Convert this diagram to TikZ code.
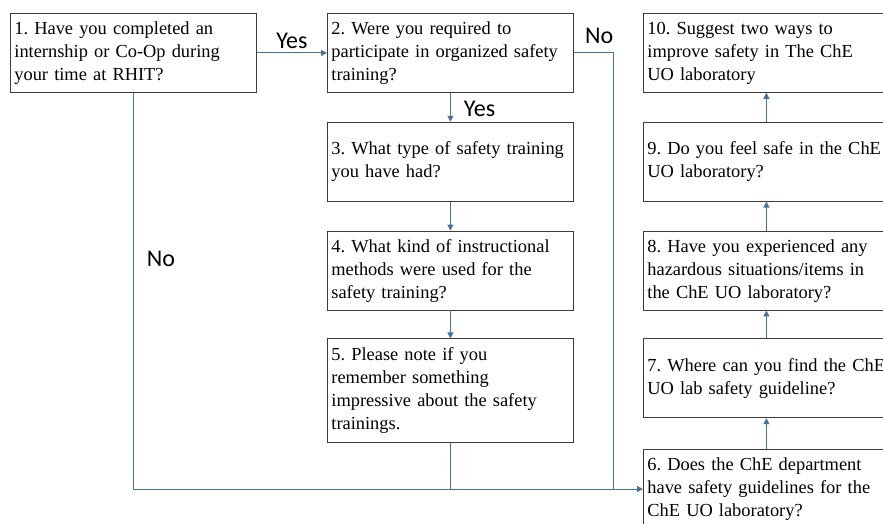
\documentclass[tikz,border=0pt]{standalone}
\usepackage{fontspec}
\setmainfont{Liberation Serif}
\newfontfamily\labelfont{Carlito}
\usetikzlibrary{positioning,arrows.meta}
\definecolor{flowblue}{RGB}{70,114,160}
\definecolor{boxgray}{RGB}{60,60,60}
\newcommand\qfont{\fontsize{18.4}{23}\selectfont\frenchspacing}
\newcommand\qlines[1]{\begin{tabular}{@{}l@{}}#1\end{tabular}}
\tikzset{
  qbox/.style   = {shape=rectangle, draw=boxgray, line width=0.8pt,
                   align=left, text width=238pt, inner xsep=4pt,
                   minimum width=246pt, minimum height=79pt, font=\qfont},
  answer/.style = {font=\labelfont\fontsize{24}{26}\selectfont, inner sep=2pt},
  flow/.style   = {draw=flowblue, line width=1pt},
  arrow/.style  = {flow, -{Triangle[length=6pt,width=6pt]}}
}

\begin{document}
\begin{tikzpicture}[x=1pt, y=1pt]
  \useasboundingbox (0,0) rectangle (883,-524);
  % questions
  \node [qbox, anchor=north west] (q1) at (10,-13)
    {\qlines{1. Have you completed an\\internship or Co-Op during\\your time at RHIT?}};
  \node [qbox, anchor=north west] (q2) at (327,-13)
    {\qlines{2. Were you required to\\participate in organized safety\\training?}};
  \node [qbox, below=29pt of q2] (q3)
    {\qlines{3. What type of safety training\\you have had?}};
  \node [qbox, below=29pt of q3] (q4)
    {\qlines{4. What kind of instructional\\methods were used for the\\safety training?}};
  \node [qbox, below=28pt of q4, minimum height=104pt] (q5)
    {\qlines{5. Please note if you\\remember something\\impressive about the safety\\trainings.}};
  \node [qbox, anchor=north west] (q10) at (643,-13)
    {\qlines{10. Suggest two ways to\\improve safety in The ChE\\UO laboratory}};
  \node [qbox, below=29pt of q10] (q9)
    {\qlines{9. Do you feel safe in the ChE\\UO laboratory?}};
  \node [qbox, below=29pt of q9] (q8)
    {\qlines{8. Have you experienced any\\hazardous situations/items in\\the ChE UO laboratory?}};
  \node [qbox, below=28pt of q8] (q7)
    {\qlines{7. Where can you find the ChE\\UO lab safety guideline?}};
  \node [qbox, below=31pt of q7] (q6)
    {\qlines{6. Does the ChE department\\have safety guidelines for the\\ChE UO laboratory?}};
  \coordinate (njoin) at (613,0);

  % connectors
  \draw [arrow] (q1) -- node [answer, above=2pt] {Yes} (q2);
  \draw [arrow] (q2) -- node [answer, right=11pt, yshift=-2pt] {Yes} (q3);
  \draw [arrow] (q3) -- (q4);
  \draw [arrow] (q4) -- (q5);
  \draw [flow] (q2.east) -- node [answer, above=7pt, pos=0.65] {No} (q2.east -| njoin)
    -- (njoin |- q6.west);
  \draw [flow] (q5.south) -- (q5.south |- q6.west);
  \draw [arrow] (q1.south) -- node [answer, right=11pt, pos=0.42] {No} (q1.south |- q6.west)
    -- (q6.west);
  \draw [arrow] (q6) -- (q7);
  \draw [arrow] (q7) -- (q8);
  \draw [arrow] (q8) -- (q9);
  \draw [arrow] (q9) -- (q10);
\end{tikzpicture}
\end{document}
